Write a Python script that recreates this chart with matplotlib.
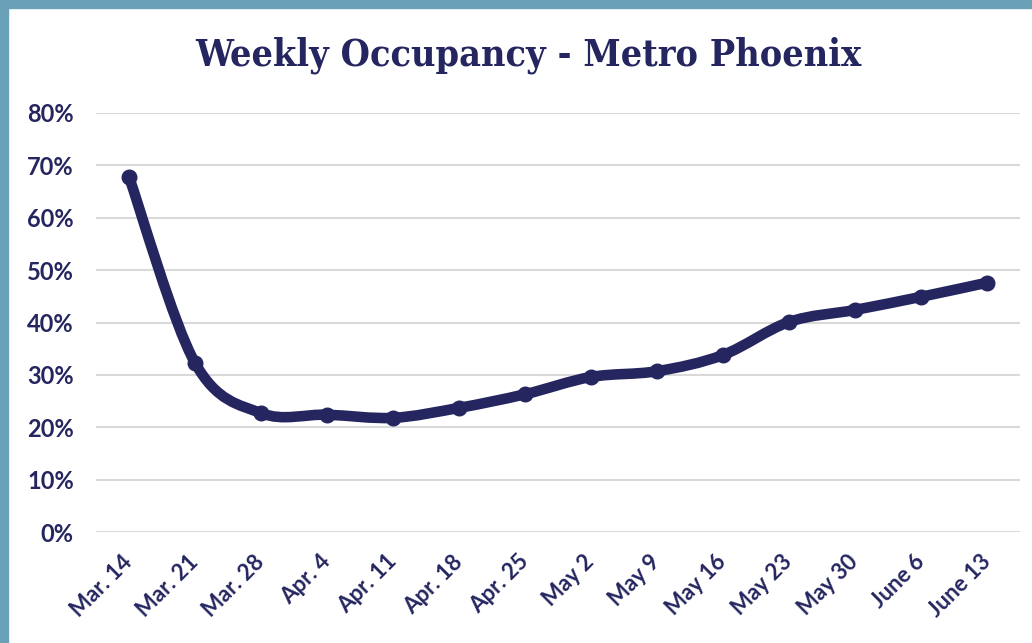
import numpy as np
import matplotlib.pyplot as plt
from matplotlib.path import Path
from matplotlib.patches import PathPatch, Rectangle

# Data
weeks = ['Mar. 14', 'Mar. 21', 'Mar. 28', 'Apr. 4', 'Apr. 11', 'Apr. 18', 'Apr. 25',
         'May 2', 'May 9', 'May 16', 'May 23', 'May 30', 'June 6', 'June 13']
occupancy = [67.8, 32.3, 22.7, 22.4, 21.8, 23.7, 26.3,
             29.6, 30.7, 33.8, 40.1, 42.4, 44.9, 47.6]
yticks = [0, 10, 20, 30, 40, 50, 60, 70, 80]

navy = '#25265f'

fig = plt.figure(figsize=(10.32, 6.43), dpi=100)
ax = fig.add_axes([96 / 1032, 1 - 532 / 643, (1020 - 96) / 1032, (532 - 113) / 643])

# Smoothed line (Catmull-Rom style bezier through the points)
x = np.arange(len(occupancy), dtype=float)
y = np.array(occupancy, dtype=float)
pts = np.column_stack([x, y])
ext = np.vstack([pts[0], pts, pts[-1]])
verts = [tuple(pts[0])]
codes = [Path.MOVETO]
for i in range(len(pts) - 1):
    p0, p1, p2, p3 = ext[i], ext[i + 1], ext[i + 2], ext[i + 3]
    c1 = p1 + (p2 - p0) / 6
    c2 = p2 - (p3 - p1) / 6
    verts += [tuple(c1), tuple(c2), tuple(p2)]
    codes += [Path.CURVE4] * 3
ax.add_patch(PathPatch(Path(verts, codes), fill=False, edgecolor=navy, lw=7.6,
                       capstyle='round', joinstyle='round', zorder=3))
ax.plot(x, y, 'o', color=navy, ms=10.5, zorder=4)

ax.set_xlim(-0.5, len(weeks) - 0.5)
ax.set_ylim(0, 80)
ax.set_yticks(yticks)
ax.set_yticklabels([f'{t}%' for t in yticks], fontfamily='Lato', fontweight='bold',
                   fontsize=17, color=navy)
ax.set_xticks(x)
ax.set_xticklabels(weeks, rotation=45, ha='right', va='center', rotation_mode='anchor',
                   fontfamily='Lato', fontweight='bold', fontsize=16, color=navy)
ax.tick_params(length=0, axis='y', pad=16)
ax.tick_params(length=0, axis='x', pad=19)
ax.grid(axis='y', color='#d9d9d9', lw=1.5)
ax.set_axisbelow(True)
for s in ax.spines.values():
    s.set_visible(False)

fig.text(528 / 1032, 1 - 55 / 643, 'Weekly Occupancy - Metro Phoenix', ha='center', va='center',
         fontfamily='DejaVu Serif', fontstretch='condensed', fontweight='bold',
         fontsize=27, color=navy)

# frame bars
fig.patches.append(Rectangle((0, 1 - 8 / 643), 1, 8 / 643, transform=fig.transFigure,
                             color='#6ba0b9', zorder=0))
fig.patches.append(Rectangle((0, 0), 8 / 1032, 1, transform=fig.transFigure,
                             color='#6ba0b9', zorder=0))

fig.savefig('out.png', dpi=100)
